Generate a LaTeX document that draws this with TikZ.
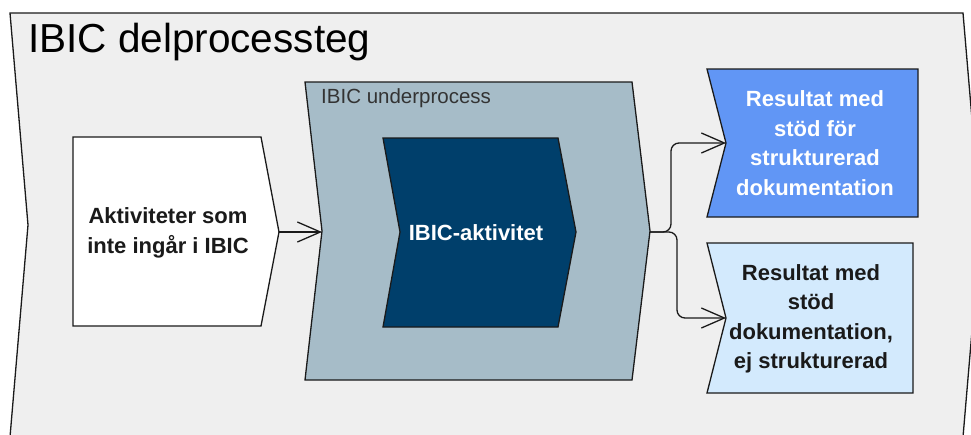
\documentclass[tikz,border=0pt]{standalone}
\usepackage{fontspec}
\setmainfont{Liberation Sans}
\usepackage{tikz}
\usetikzlibrary{arrows.meta}

\definecolor{stepgray}{HTML}{EFEFEF}
\definecolor{subgray}{HTML}{A6BCC8}
\definecolor{actblue}{HTML}{003F6B}
\definecolor{resblue}{HTML}{6196F5}
\definecolor{reslight}{HTML}{D3EAFD}
\definecolor{edgegray}{HTML}{1A1A1A}

\begin{document}
\begin{tikzpicture}[x=1pt, y=-1pt,
    outline/.style={draw=edgegray, line width=1.3pt},
    boxtext/.style={align=center, inner sep=0pt, font=\fontsize{22}{29.5}\selectfont\bfseries},
    flow/.style={draw=edgegray, line width=1.3pt, -{Straight Barb[length=23pt, width=20pt]}}]

    \useasboundingbox (0,0) rectangle (971,434);

    %outer step
    \begin{scope}
        \clip (0,0) rectangle (971,434);
        \draw[outline, fill=stepgray] (10,13) -- (963,13) -- (981,225) -- (963,437) -- (10,437) -- (28,225) -- cycle;
    \end{scope}
    \node[anchor=base west, inner sep=0pt, font=\fontsize{40.5}{48}\selectfont] (title) at (28,52) {IBIC delprocessteg};

    %activities outside
    \draw[outline, fill=white] (73,137) -- (261,137) -- (279,232) -- (261,326) -- (73,326) -- cycle;
    \node[boxtext, text=edgegray] (other) at (168,233) {Aktiviteter som\\inte ingår i IBIC};
    \coordinate (other-tip) at (279,232);

    %sub process
    \draw[outline, fill=subgray] (305,82) -- (632,82) -- (650,231) -- (632,380) -- (305,380) -- (322,231) -- cycle;
    \node[anchor=base west, inner sep=0pt, text=black!80, font=\fontsize{20.5}{24}\selectfont] (sublabel) at (321,103) {IBIC underprocess};
    \coordinate (sub-in) at (322,232);
    \coordinate (sub-tip) at (650,232);

    %activity
    \draw[outline, fill=actblue] (383,138) -- (558,138) -- (576,232) -- (558,327) -- (383,327) -- (400,232) -- cycle;
    \node[boxtext, text=white] (ibicakt) at (476,233) {IBIC-aktivitet};

    %results
    \draw[outline, fill=resblue] (707,69) -- (918,69) -- (918,217) -- (707,217) -- (726,143) -- cycle;
    \node[boxtext, text=white] (resstruct) at (815,143) {Resultat med\\stöd för\\strukturerad\\dokumentation};
    \coordinate (struct-in) at (726,143);

    \draw[outline, fill=reslight] (707,243) -- (913,243) -- (913,393) -- (707,393) -- (726,318) -- cycle;
    \node[boxtext, text=edgegray] (resfree) at (811,319) {Resultat med\\stöd\\dokumentation,\\ej strukturerad};
    \coordinate (free-in) at (726,318);

    %connections
    \draw[flow] (other-tip) -- (sub-in);
    \foreach \dst/\dx in {struct-in/21, free-in/27}{
        \draw[flow, rounded corners=8pt] (sub-tip) -- ++(\dx,0) |- (\dst);
    };
\end{tikzpicture}
\end{document}
